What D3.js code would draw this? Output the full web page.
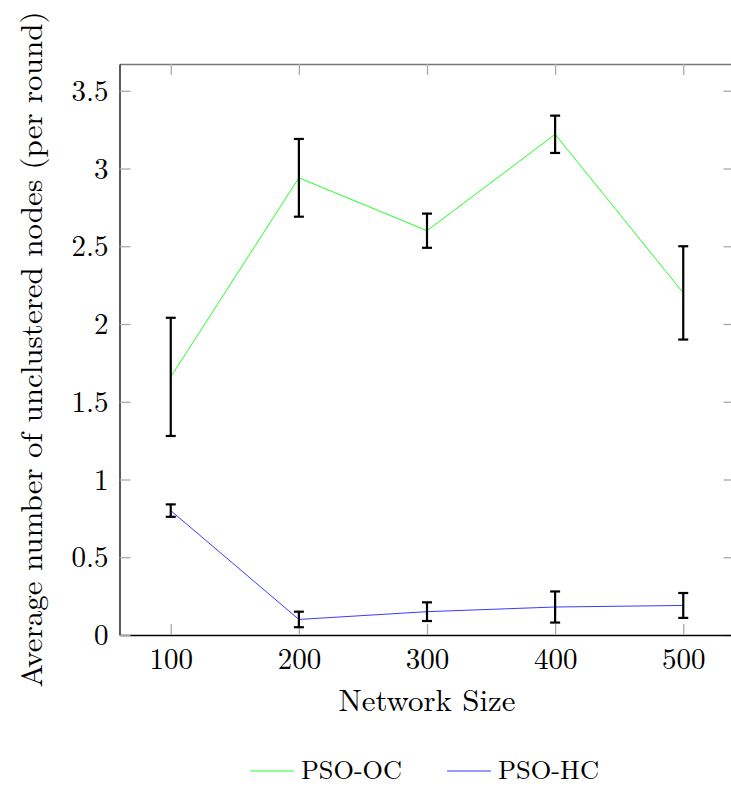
<!DOCTYPE html>
<html>
<head>
<meta charset="utf-8">
<script src="https://cdn.jsdelivr.net/npm/d3@7"></script>
<style>
  body { margin: 0; background: #fff; }
</style>
</head>
<body>
<svg></svg>
<script>
var width = 731;
var height = 787;
var font = "'Latin Modern Roman', 'Liberation Serif', serif";

// data
var sizes = [100, 200, 300, 400, 500];
var ocMean = [1.66, 2.94, 2.60, 3.22, 2.20];
var ocErr  = [0.38, 0.25, 0.11, 0.12, 0.30];
var hcMean = [0.80, 0.10, 0.15, 0.18, 0.19];
var hcErr  = [0.04, 0.05, 0.06, 0.10, 0.08];
var yTicks = [0, 0.5, 1, 1.5, 2, 2.5, 3, 3.5];

var series = [
  { name: "PSO-OC", color: "#22ff22", mean: ocMean, err: ocErr },
  { name: "PSO-HC", color: "#3b3bff", mean: hcMean, err: hcErr }
];

// plot box ("top" is taken by window.top, so use other names)
var plotLeft = 119.5, plotRight = 734.5, plotTop = 64, plotBottom = 635;

var xScale = d3.scaleLinear()
    .domain([60, 540])
    .range([plotLeft, plotRight]);

var yScale = d3.scaleLinear()
    .domain([0, (plotBottom - plotTop) / 155.5])
    .range([plotBottom, plotTop]);

var svg = d3.select("svg")
    .attr("width", width)
    .attr("height", height)
    .style("font-family", font);

// frame: top and right (gray, no labels)
svg.append("g")
    .attr("class", "frame")
    .attr("transform", "translate(0," + plotTop + ")")
    .call(d3.axisTop(xScale).tickValues(sizes).tickSizeInner(-11).tickSizeOuter(0).tickFormat(""));

svg.append("g")
    .attr("class", "frame")
    .attr("transform", "translate(" + plotRight + ",0)")
    .call(d3.axisRight(yScale).tickValues(yTicks).tickSizeInner(-11).tickSizeOuter(0).tickFormat(""));

svg.selectAll(".frame .domain").attr("stroke", "#777").attr("stroke-width", 1.3);

// x axis
var gx = svg.append("g")
    .attr("transform", "translate(0," + plotBottom + ")")
    .call(d3.axisBottom(xScale).tickValues(sizes).tickSizeInner(-11).tickSizeOuter(0).tickPadding(13));

// y axis
var gy = svg.append("g")
    .attr("transform", "translate(" + plotLeft + ",0)")
    .call(d3.axisLeft(yScale).tickValues(yTicks).tickSizeInner(-11).tickSizeOuter(0).tickPadding(11)
        .tickFormat(d3.format("")));

svg.selectAll("g").attr("font-family", null).attr("font-size", null);
svg.selectAll("g.tick line").attr("stroke", "#aaa").attr("stroke-width", 1.3);
gx.select(".domain").attr("stroke", "#000").attr("stroke-width", 1.3);
gy.select(".domain").attr("stroke", "#000").attr("stroke-width", 1.3);
svg.selectAll("g.tick text")
    .style("font-family", font)
    .style("font-size", "29px")
    .attr("fill", "#000");
gy.selectAll("g.tick text").attr("dy", "0.33em");

// lines
var line = d3.line()
    .x(d => xScale(d.x))
    .y(d => yScale(d.y));

series.forEach(function(s) {
  var pts = sizes.map((x, i) => ({ x: x, y: s.mean[i], e: s.err[i] }));

  svg.append("path")
      .datum(pts)
      .attr("fill", "none")
      .attr("stroke", s.color)
      .attr("stroke-width", 1)
      .attr("d", line);

  var bars = svg.append("g").selectAll("g")
      .data(pts)
      .enter()
      .append("g")
        .attr("stroke", "#000")
        .attr("stroke-width", 2.2);

  bars.append("line")
      .attr("x1", d => xScale(d.x)).attr("x2", d => xScale(d.x))
      .attr("y1", d => yScale(d.y - d.e)).attr("y2", d => yScale(d.y + d.e));
  bars.append("line")
      .attr("x1", d => xScale(d.x) - 5).attr("x2", d => xScale(d.x) + 5)
      .attr("y1", d => yScale(d.y + d.e)).attr("y2", d => yScale(d.y + d.e));
  bars.append("line")
      .attr("x1", d => xScale(d.x) - 5).attr("x2", d => xScale(d.x) + 5)
      .attr("y1", d => yScale(d.y - d.e)).attr("y2", d => yScale(d.y - d.e));
});

// x label
svg.append("text")
    .attr("x", (plotLeft + plotRight) / 2)
    .attr("y", 711)
    .style("text-anchor", "middle")
    .style("font-family", font)
    .style("font-size", "30px")
    .attr("textLength", 177)
    .attr("lengthAdjust", "spacingAndGlyphs")
    .text("Network Size");

// y label
svg.append("text")
    .attr("transform", "translate(42," + (plotTop + plotBottom) / 2 + ") rotate(-90)")
    .style("text-anchor", "middle")
    .style("font-family", font)
    .style("font-size", "30px")
    .attr("textLength", 676)
    .attr("lengthAdjust", "spacingAndGlyphs")
    .text("Average number of unclustered nodes (per round)");

// legend
var legendX = [250, 447];
var legend = svg.append("g").selectAll("g")
    .data(series)
    .enter()
    .append("g")
      .attr("transform", (d, i) => "translate(" + legendX[i] + ",779)");

legend.append("line")
    .attr("x1", 0).attr("x2", 44)
    .attr("y1", -8).attr("y2", -8)
    .attr("stroke", d => d.color)
    .attr("stroke-width", 1);

legend.append("text")
    .attr("x", 51)
    .style("font-family", font)
    .style("font-size", "26.5px")
    .attr("textLength", 101)
    .attr("lengthAdjust", "spacingAndGlyphs")
    .text(d => d.name);
</script>
</body>
</html>
